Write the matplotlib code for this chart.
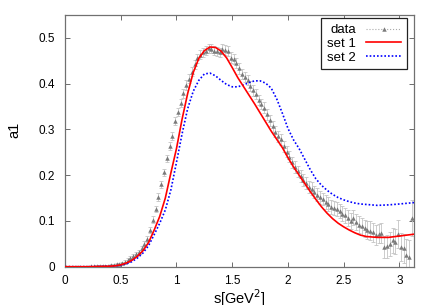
#!/usr/bin/env python3

import matplotlib as mpl
mpl.use("Agg")
import matplotlib.pyplot as plt
import numpy as np
from matplotlib.lines import Line2D

mpl.rcParams["font.family"] = ["Liberation Sans", "DejaVu Sans"]
mpl.rcParams["legend.fancybox"] = False

# data points (bins of 0.025 GeV^2)
s_data = [0.0125 + 0.025 * k for k in range(125)]
a1_data = [
    0.0, 0.0, 0.0, 0.0, 0.0, 0.0, 0.0, 0.0, 0.0, 0.0005,
    0.0005, 0.001, 0.001, 0.0015, 0.002, 0.002, 0.003, 0.004, 0.005, 0.006,
    0.008, 0.011, 0.015, 0.019, 0.023, 0.027, 0.032, 0.041, 0.050, 0.061,
    0.080, 0.103, 0.126, 0.152, 0.180, 0.206, 0.237, 0.263, 0.285, 0.318,
    0.338, 0.357, 0.379, 0.397, 0.411, 0.426, 0.442, 0.455, 0.463, 0.468,
    0.472, 0.477, 0.476, 0.472, 0.471, 0.468, 0.476, 0.474, 0.472, 0.457,
    0.453, 0.445, 0.433, 0.421, 0.415, 0.408, 0.395, 0.385, 0.377, 0.364,
    0.356, 0.347, 0.333, 0.320, 0.307, 0.295, 0.285, 0.278, 0.263, 0.251,
    0.240, 0.228, 0.218, 0.208, 0.199, 0.189, 0.182, 0.175, 0.170, 0.163,
    0.157, 0.152, 0.148, 0.141, 0.137, 0.131, 0.129, 0.126, 0.122, 0.116,
    0.112, 0.106, 0.100, 0.107, 0.098, 0.092, 0.088, 0.084, 0.080, 0.079,
    0.075, 0.069, 0.072, 0.074, 0.044, 0.045, 0.050, 0.058, 0.055, 0.071,
    0.043, 0.040, 0.026, 0.022, 0.106,
]
a1_err = [
    0.002, 0.002, 0.002, 0.002, 0.002, 0.002, 0.002, 0.002, 0.002, 0.002,
    0.002, 0.002, 0.002, 0.002, 0.002, 0.002, 0.002, 0.002, 0.002, 0.002,
    0.003, 0.003, 0.004, 0.004, 0.004, 0.005, 0.005, 0.005, 0.006, 0.006,
    0.007, 0.007, 0.007, 0.008, 0.008, 0.008, 0.008, 0.009, 0.009, 0.009,
    0.009, 0.009, 0.010, 0.010, 0.010, 0.010, 0.010, 0.010, 0.010, 0.010,
    0.010, 0.010, 0.010, 0.010, 0.010, 0.010, 0.011, 0.011, 0.011, 0.011,
    0.011, 0.011, 0.011, 0.011, 0.011, 0.011, 0.011, 0.011, 0.011, 0.011,
    0.011, 0.012, 0.012, 0.012, 0.012, 0.012, 0.012, 0.012, 0.012, 0.012,
    0.012, 0.012, 0.013, 0.013, 0.013, 0.013, 0.013, 0.013, 0.014, 0.014,
    0.014, 0.014, 0.014, 0.015, 0.015, 0.015, 0.015, 0.015, 0.016, 0.016,
    0.016, 0.017, 0.017, 0.017, 0.018, 0.018, 0.018, 0.019, 0.019, 0.020,
    0.020, 0.021, 0.021, 0.022, 0.024, 0.025, 0.026, 0.027, 0.028, 0.030,
    0.031, 0.032, 0.034, 0.036, 0.040,
]

# fit curves
s_curve = [
    0.0, 0.2, 0.3, 0.4, 0.45, 0.5, 0.55, 0.6, 0.65, 0.7,
    0.75, 0.8, 0.85, 0.9, 0.95, 1.0, 1.05, 1.1, 1.15, 1.2,
    1.25, 1.3, 1.35, 1.4, 1.45, 1.5, 1.55, 1.6, 1.65, 1.7,
    1.75, 1.8, 1.85, 1.9, 1.95, 2.0, 2.05, 2.1, 2.15, 2.2,
    2.25, 2.3, 2.35, 2.4, 2.45, 2.5, 2.55, 2.6, 2.65, 2.7,
    2.8, 2.9, 3.0, 3.13,
]
set1 = [
    0.0, 0.0, 0.0005, 0.001, 0.002, 0.004, 0.008, 0.014, 0.023, 0.035,
    0.053, 0.080, 0.110, 0.150, 0.205, 0.258, 0.322, 0.378, 0.424, 0.455,
    0.472, 0.480, 0.479, 0.471, 0.456, 0.435, 0.413, 0.394, 0.375, 0.356,
    0.336, 0.316, 0.296, 0.278, 0.260, 0.238, 0.218, 0.200, 0.182, 0.164,
    0.147, 0.131, 0.117, 0.105, 0.095, 0.087, 0.080, 0.074, 0.069, 0.066,
    0.064, 0.064, 0.067, 0.071,
]
set2 = [
    0.0, 0.0, 0.0005, 0.001, 0.002, 0.003, 0.006, 0.011, 0.019, 0.030,
    0.046, 0.070, 0.095, 0.124, 0.168, 0.228, 0.290, 0.345, 0.383, 0.407,
    0.421, 0.423, 0.417, 0.407, 0.398, 0.393, 0.393, 0.397, 0.402, 0.406,
    0.406, 0.401, 0.390, 0.366, 0.335, 0.302, 0.277, 0.258, 0.235, 0.212,
    0.192, 0.178, 0.167, 0.158, 0.151, 0.146, 0.142, 0.139, 0.137, 0.136,
    0.134, 0.135, 0.137, 0.140,
]

x_ticks = [0, 0.5, 1, 1.5, 2, 2.5, 3]
y_ticks = [0, 0.1, 0.2, 0.3, 0.4, 0.5]


def main():
    fig = plt.figure(figsize=(4.36, 3.05), dpi=100)
    ax = fig.add_axes([0.149, 0.1256, 0.8005, 0.8254])

    # data with error bars
    ax.errorbar(s_data, a1_data, yerr=a1_err, fmt="none", ecolor="#c4c4c4",
                elinewidth=0.6, capsize=1.5, capthick=0.6, zorder=2)
    ax.plot(s_data, a1_data, linestyle="none", marker="^", markersize=3.2,
            color="#7a7a7a", markeredgewidth=0, zorder=3)

    # curves
    ax.plot(s_curve, set1, color="#ff0000", linewidth=1.2, zorder=5)
    ax.plot(s_curve, set2, color="#0000ff", linewidth=1.2,
            linestyle=(0, (1, 1.2)), zorder=4)

    ax.set_xlim(0, 3.13)
    ax.set_ylim(0, 0.55)
    ax.set_xticks(x_ticks)
    ax.set_xticklabels(["%g" % t for t in x_ticks])
    ax.set_yticks(y_ticks)
    ax.set_yticklabels(["%g" % t for t in y_ticks])
    ax.tick_params(direction="in", length=3.5, width=0.6, color="#555555",
                   top=True, right=True, labelsize=8.5)
    ax.tick_params(axis="x", pad=6)
    ax.tick_params(axis="y", pad=7)
    for sp in ax.spines.values():
        sp.set_color("#707070")
        sp.set_linewidth(0.9)

    ax.set_xlabel("s[GeV$^2$]", fontsize=10.5)
    ax.set_ylabel("a1", fontsize=10.5)
    ax.xaxis.set_label_coords(0.5, -0.082)
    ax.yaxis.set_label_coords(-0.125, 0.545)

    # legend, gnuplot style: labels left of the samples
    handles = [
        Line2D([], [], color="#aaaaaa", linestyle=":", linewidth=0.8,
               marker="^", markersize=3.2, markerfacecolor="#7a7a7a",
               markeredgewidth=0),
        Line2D([], [], color="#ff0000", linewidth=1.2),
        Line2D([], [], color="#0000ff", linewidth=1.2, linestyle=(0, (1, 1.2))),
    ]
    leg = ax.legend(handles, ["data", "set 1", "set 2"], loc="upper right",
                    bbox_to_anchor=(0.979, 0.987), borderaxespad=0,
                    markerfirst=False, fontsize=9.5, handlelength=2.6,
                    labelspacing=0.1, borderpad=0.45, handletextpad=0.8,
                    framealpha=1, edgecolor="#222222")
    leg.get_frame().set_linewidth(0.9)

    fig.savefig("out.png", dpi=100)
    plt.close()


if __name__ == "__main__":
    main()
